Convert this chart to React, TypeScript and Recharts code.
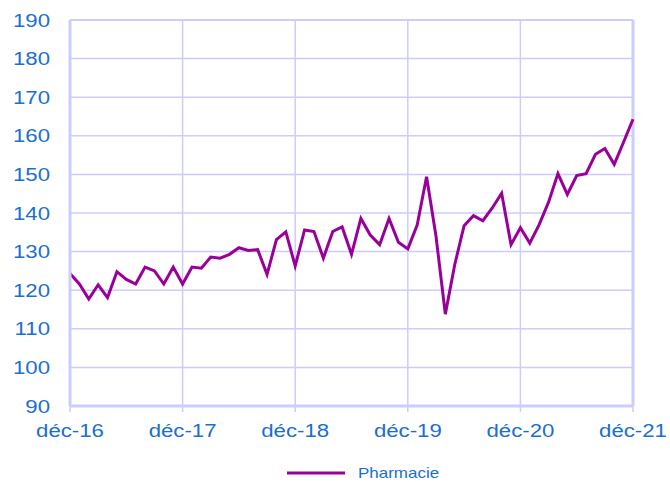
import React from 'react';
import { LineChart, Line, XAxis, YAxis, CartesianGrid, Legend, ReferenceLine } from 'recharts';

// monthly index, déc-16 .. déc-21
const pharmacie = [
  124.3, 121.6, 117.7, 121.4, 118.1, 124.8, 122.8, 121.6, 126.0, 125.0, 121.6, 126.0,
  121.6, 126.0, 125.7, 128.6, 128.3, 129.3, 131.0, 130.3, 130.5, 124.1, 133.1, 135.1,
  126.3, 135.6, 135.2, 128.3, 135.2, 136.4, 129.3, 138.6, 134.3, 131.8, 138.6, 132.4,
  130.7, 136.9, 149.4, 134.1, 113.8, 126.6, 136.7, 139.3, 138.0, 141.3, 145.1, 131.8,
  136.2, 132.2, 137.0, 142.8, 150.2, 144.8, 149.7, 150.2, 155.2, 156.7, 152.6, 158.4,
  164.3,
];
const xTicks = [0, 12, 24, 36, 48, 60];
const xTickLabels = ['déc-16', 'déc-17', 'déc-18', 'déc-19', 'déc-20', 'déc-21'];
const yTicks = [90, 100, 110, 120, 130, 140, 150, 160, 170, 180, 190];

const data = pharmacie.map((v, i) => ({ m: i, pharmacie: v }));

const AXIS = '#ccccff';
const TEXT = '#1a6fd0';
const LINE = '#990099';
const FONT = '"Liberation Sans", Arial, sans-serif';
const STRETCH = 1.2; // the reference text is drawn wide

const YTick = (props: any) => {
  const { x, y, payload } = props;
  return (
    <g transform={`translate(${x},${y})`}>
      <text transform={`scale(${STRETCH},1)`} textAnchor="end" dy="0.36em" fill={TEXT} fontSize={18.5} fontFamily={FONT}>
        {payload.value}
      </text>
    </g>
  );
};

const XTick = (props: any) => {
  const { x, y, payload } = props;
  return (
    <g transform={`translate(${x},${y})`}>
      <text transform={`scale(${STRETCH},1)`} textAnchor="middle" dy="0.71em" fill={TEXT} fontSize={18.5} fontFamily={FONT}>
        {xTickLabels[xTicks.indexOf(payload.value)]}
      </text>
    </g>
  );
};

const LegendContent = () => (
  <div style={{ display: 'flex', justifyContent: 'center', alignItems: 'center', height: 20, paddingLeft: 56 }}>
    <svg width={58} height={6} style={{ marginRight: 13 }}>
      <line x1={0} y1={3} x2={58} y2={3} stroke={LINE} strokeWidth={3} />
    </svg>
    <span
      style={{
        display: 'inline-block',
        width: 81,
        color: TEXT,
        fontFamily: FONT,
        fontSize: 14.5,
        transform: 'scaleX(1.17)',
        transformOrigin: 'left center',
        whiteSpace: 'nowrap',
      }}
    >
      Pharmacie
    </span>
  </div>
);

export default function App() {
  return (
    <div style={{ position: 'absolute', left: 0, top: 0, width: 670, height: 482, background: '#fff' }}>
      <LineChart width={670} height={482} data={data} margin={{ top: 20, right: 37, left: 8, bottom: 16 }}>
        <CartesianGrid stroke={AXIS} strokeWidth={1.5} horizontalValues={yTicks} verticalValues={xTicks} />
        <XAxis
          dataKey="m"
          type="number"
          domain={[0, 60]}
          ticks={xTicks}
          axisLine={{ stroke: AXIS, strokeWidth: 3 }}
          tickLine={{ stroke: AXIS, strokeWidth: 1.5 }}
          tickSize={6}
          tickMargin={12}
          height={40}
          tick={<XTick />}
          interval={0}
        />
        <YAxis
          domain={[90, 190]}
          ticks={yTicks}
          width={62}
          axisLine={{ stroke: AXIS, strokeWidth: 3 }}
          tickLine={false}
          tickSize={6}
          tickMargin={14}
          tick={<YTick />}
          interval={0}
        />
        <ReferenceLine x={60} stroke={AXIS} strokeWidth={3} />
        <ReferenceLine y={190} stroke={AXIS} strokeWidth={2} />
        <Legend verticalAlign="bottom" content={<LegendContent />} wrapperStyle={{ top: 463, left: 0, width: 670, height: 20 }} />
        <Line
          type="linear"
          dataKey="pharmacie"
          name="Pharmacie"
          stroke={LINE}
          strokeWidth={3}
          dot={false}
          isAnimationActive={false}
        />
      </LineChart>
    </div>
  );
}
